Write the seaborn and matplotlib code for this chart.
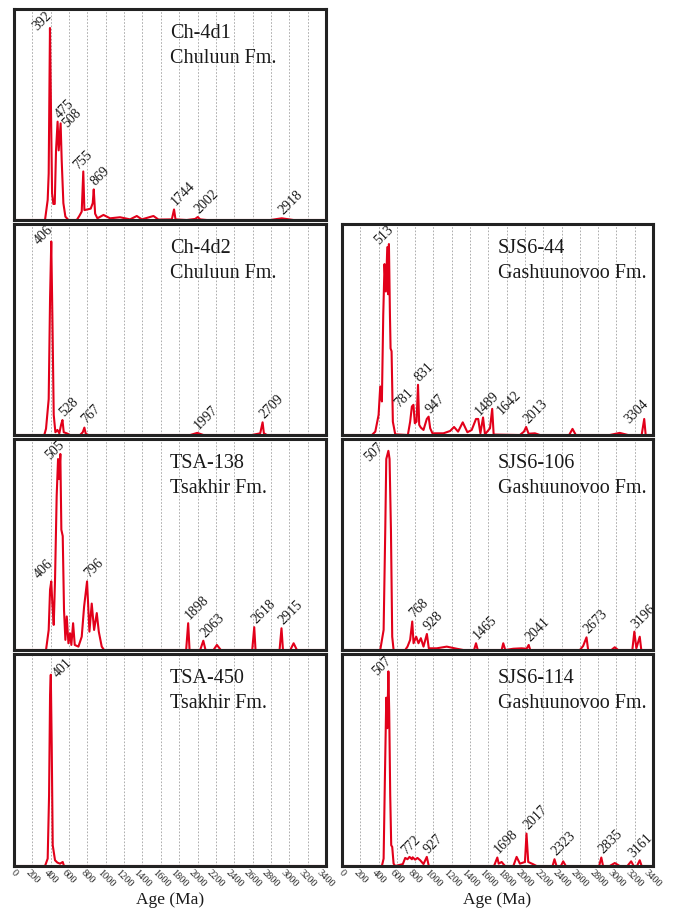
import matplotlib
matplotlib.use('Agg')
import matplotlib.pyplot as plt
import seaborn as sns
import numpy as np

# ---- data: age (Ma) vs relative probability (% of panel height)
ch4d1_age = [0, 338, 367, 378, 385, 392, 404, 415, 429, 444, 458, 475, 487, 508, 520, 538, 560, 593,
             684, 713, 738, 755, 767, 800, 836, 858, 869, 884, 909, 975, 1047, 1156, 1265, 1338, 1393,
             1520, 1574, 1720, 1744, 1760, 1883, 1974, 2002, 2029, 2102, 2793, 2918, 3047, 3400]
ch4d1_dens = [0, 0, 9.5, 22, 57, 91, 49, 12.6, 7.6, 7.6, 33, 46.6, 33, 45.8, 28, 8, 1.6, 0,
              0, 2, 4, 23, 4.7, 5, 5.4, 8, 14.5, 3, 0.8, 2.4, 0.8, 1.3, 0.3, 1.9, 0.3,
              1.9, 0.2, 0.3, 5, 0.3, 0, 0.5, 1.4, 0.3, 0, 0, 0.8, 0, 0]
ch4d1_peaks = [392, 475, 508, 755, 869, 1744, 2002, 2918]

ch4d2_age = [0, 330, 349, 378, 393, 406, 418, 433, 451, 473, 494, 513, 528, 542, 574, 611, 720, 749,
             767, 782, 811, 1920, 1997, 2065, 2592, 2683, 2709, 2723, 2756, 3400]
ch4d2_dens = [0, 0, 3, 17, 65, 91.7, 57, 9.5, 1.3, 2.4, 0.8, 4.8, 7.1, 1.3, 0.8, 0, 0, 1.3,
              3.5, 0.6, 0, 0, 1, 0, 0, 0.8, 6, 0.8, 0, 0]
ch4d2_peaks = [406, 528, 767, 1997, 2709]

sjs44_age = [0, 327, 364, 400, 418, 436, 451, 465, 480, 495, 505, 513, 524, 531, 542, 556, 582,
             720, 745, 764, 781, 796, 815, 831, 844, 862, 891, 927, 947, 964, 989, 1109, 1182,
             1225, 1269, 1320, 1371, 1418, 1465, 1489, 1513, 1542, 1563, 1618, 1642, 1658, 1945,
             1989, 2013, 2040, 2109, 2163, 2483, 2520, 2556, 2927, 3036, 3127, 3276, 3304, 3320, 3400]
sjs44_dens = [0, 0, 1.6, 9.5, 23, 15.9, 57, 81, 68, 89, 66.7, 90.5, 57, 41, 39.7, 6.3, 0.3,
              0, 6.3, 13.5, 14.3, 5.6, 6.3, 23.8, 4.8, 3.5, 2.4, 7.6, 8.7, 3.2, 0.8, 0.8, 1.9,
              3.8, 1.6, 6, 1.3, 2.4, 7.6, 7.6, 0.8, 8.3, 0.3, 3.2, 12.4, 0.2, 0,
              1.6, 3.8, 0.6, 0.8, 0, 0, 2.9, 0, 0, 1, 0, 0, 7.6, 0, 0]
sjs44_peaks = [513, 781, 831, 947, 1489, 1642, 2013, 3304]

tsa138_age = [0, 349, 378, 393, 406, 418, 433, 447, 465, 480, 491, 505, 516, 531, 545, 560, 575,
              593, 611, 625, 644, 662, 702, 738, 764, 796, 822, 847, 873, 902, 924, 956, 982,
              1876, 1898, 1913, 2029, 2063, 2087, 2174, 2211, 2254, 2596, 2618, 2632, 2894, 2915,
              2931, 3011, 3047, 3083, 3400]
tsa138_dens = [0, 0, 9.5, 28.6, 32.5, 22, 11.9, 33, 73, 90.5, 81, 92.9, 57, 54, 19, 4.8, 15.9,
               3.2, 7.9, 2.4, 12.7, 2.4, 1.6, 6.3, 20.6, 32.5, 8.7, 22, 9.5, 17.5, 8.7, 1.6, 0,
               0, 12.7, 0, 0, 4.4, 0, 0, 2.4, 0, 0, 10.8, 0, 0, 10.3,
               0, 0, 3.2, 0, 0]
tsa138_peaks = [406, 505, 796, 1898, 2063, 2618, 2915]

sjs106_age = [0, 418, 455, 473, 484, 507, 520, 535, 549, 564, 691, 716, 745, 768, 782, 811, 836,
              862, 891, 928, 949, 1036, 1145, 1254, 1327, 1444, 1465, 1484, 1745, 1763, 1785, 1873,
              1963, 2018, 2041, 2058, 2600, 2636, 2673, 2691, 2945, 2982, 3018, 3174, 3196, 3218,
              3255, 3272, 3400]
sjs106_dens = [0, 0, 9.5, 57, 90.5, 94.4, 90.5, 57, 6.3, 0, 0, 1.6, 4.8, 13.5, 3.2, 6.3, 3.2,
               5.6, 1.6, 7.6, 0.8, 0.8, 1.6, 0.6, 0, 0, 3.2, 0, 0, 3.2, 0, 0.6,
               0.8, 0.6, 2.4, 0, 0, 1.9, 6, 0, 0, 1.3, 0, 0, 8.7, 0.8,
               6.3, 0, 0]
sjs106_peaks = [507, 768, 928, 1465, 2041, 2673, 3196]

tsa450_age = [0, 338, 367, 382, 393, 401, 411, 422, 447, 473, 502, 531, 545, 3400]
tsa450_dens = [0, 0, 3.5, 33, 80.8, 90.2, 57, 9.8, 2.7, 1.6, 1.1, 1.9, 0, 0]
tsa450_peaks = [401]

sjs114_age = [0, 436, 455, 469, 484, 495, 507, 516, 527, 538, 549, 564, 582, 665, 691, 716, 738,
              764, 772, 800, 825, 855, 891, 927, 949, 1662, 1698, 1713, 1745, 1782, 1873, 1909,
              1945, 2000, 2017, 2036, 2091, 2127, 2302, 2323, 2345, 2393, 2418, 2447, 2811, 2835,
              2854, 2927, 2982, 3036, 3120, 3161, 3189, 3225, 3255, 3276, 3400]
sjs114_dens = [0, 0, 3.5, 41.5, 79.4, 65, 91.8, 73, 33.5, 9.8, 9, 1.1, 0, 0.9, 3.8, 3.2, 4.3,
               3.2, 4.1, 3, 3.8, 2.7, 0.9, 4.3, 0, 0, 4, 1.1, 1.9, 0, 0, 4.3,
               1.1, 1.9, 15.3, 1.9, 0.8, 0, 0, 3.2, 0, 0, 2.2, 0, 0, 4,
               0, 0, 1.4, 0, 0, 2.2, 0, 0, 2.7, 0, 0]
sjs114_peaks = [507, 772, 927, 1698, 2017, 2323, 2835, 3161]

samples = ['Ch-4d1', 'Ch-4d2', 'SJS6-44', 'TSA-138', 'SJS6-106', 'TSA-450', 'SJS6-114']
formations = ['Chuluun Fm.', 'Chuluun Fm.', 'Gashuunovoo Fm.', 'Tsakhir Fm.',
              'Gashuunovoo Fm.', 'Tsakhir Fm.', 'Gashuunovoo Fm.']
curves = [(ch4d1_age, ch4d1_dens, ch4d1_peaks), (ch4d2_age, ch4d2_dens, ch4d2_peaks),
          (sjs44_age, sjs44_dens, sjs44_peaks), (tsa138_age, tsa138_dens, tsa138_peaks),
          (sjs106_age, sjs106_dens, sjs106_peaks), (tsa450_age, tsa450_dens, tsa450_peaks),
          (sjs114_age, sjs114_dens, sjs114_peaks)]

# ---- layout (pixel boxes) and label styling
grid_pos = [(0, 0), (1, 0), (1, 1), (2, 0), (2, 1), (3, 0), (3, 1)]
ROW_PX = [(9, 220), (224, 435), (439, 650), (654, 866)]
COL_PX = [(14, 326), (342, 653)]
W, H = 675, 913

# label mode: 'c' = centred over the peak, otherwise starts at the peak
label_mode = {('Ch-4d1', 392): 'c', ('Ch-4d2', 406): 'c', ('SJS6-44', 513): 'c',
              ('SJS6-44', 781): 'c', ('SJS6-44', 3304): 'c', ('TSA-138', 505): 'c',
              ('TSA-138', 406): 'c', ('SJS6-106', 507): 'c', ('SJS6-114', 507): 'c'}
label_nudge = {('Ch-4d1', 508): (9, -7), ('Ch-4d1', 755): (-3, -1), ('SJS6-44', 513): (0, 4),
               ('SJS6-44', 781): (-5, 2), ('SJS6-44', 1642): (12, -8), ('SJS6-44', 3304): (-3, 3),
               ('TSA-138', 505): (-1, -1), ('TSA-138', 406): (-3, 8), ('SJS6-106', 507): (-10, -6),
               ('TSA-450', 401): (9, -5), ('SJS6-114', 507): (-2, 1), ('SJS6-114', 772): (-4, 0)}

RED = '#e2001a'

sns.set_style('white')
plt.rcParams['font.family'] = ['Liberation Serif', 'DejaVu Serif']

fig = plt.figure(figsize=(W / 100, H / 100), dpi=100)

for name, fm, (age, dens, peaks), (r, c) in zip(samples, formations, curves, grid_pos):
    top, bot = ROW_PX[r]
    left, right = COL_PX[c]
    ax = fig.add_axes([left / W, 1 - bot / H, (right - left) / W, (bot - top) / H])

    sns.lineplot(x=age, y=dens, ax=ax, color=RED, lw=1.5, estimator=None, sort=False)

    ax.set_xlim(0, 3400)
    ax.set_ylim(0, 100)
    ax.set_xticks(range(0, 3401, 200))
    ax.set_yticks([])
    ax.grid(axis='x', color='#a0a0a0', ls=(0, (2, 2)), lw=0.6)
    for sp in ax.spines.values():
        sp.set_linewidth(2.2)
        sp.set_color('#222222')

    if r == 3:
        ax.set_xticklabels([str(v) for v in range(0, 3401, 200)], rotation=-45,
                           ha='center', fontsize=7.5, color='#222222')
        ax.tick_params(axis='x', length=0, pad=1.5)
        ax.set_xlabel('Age (Ma)', fontsize=12.5, labelpad=2, color='#1a1a1a')
    else:
        ax.tick_params(axis='x', length=0, labelbottom=False)
        ax.set_xlabel('')
    ax.set_ylabel('')

    ax.text(0.5, 0.862, name, transform=ax.transAxes, fontsize=14.5, color='#1a1a1a', va='baseline')
    ax.text(0.5, 0.745, fm, transform=ax.transAxes, fontsize=14.5, color='#1a1a1a', va='baseline')

    a = np.array(age)
    d = np.array(dens)
    for p in peaks:
        py = d[np.abs(a - p) <= 12].max()
        mode = label_mode.get((name, p), 'l')
        if mode == 'c':
            ha, nudge = 'center', (-3, 2)
        else:
            ha, nudge = 'left', (4, 1)
        nudge = label_nudge.get((name, p), nudge)
        ax.annotate(str(p), xy=(p, py), xytext=nudge, textcoords='offset pixels',
                    rotation=45, rotation_mode='anchor', ha=ha, va='bottom',
                    fontsize=10, color='#1a1a1a', annotation_clip=False)

fig.savefig('out.png', dpi=100)
